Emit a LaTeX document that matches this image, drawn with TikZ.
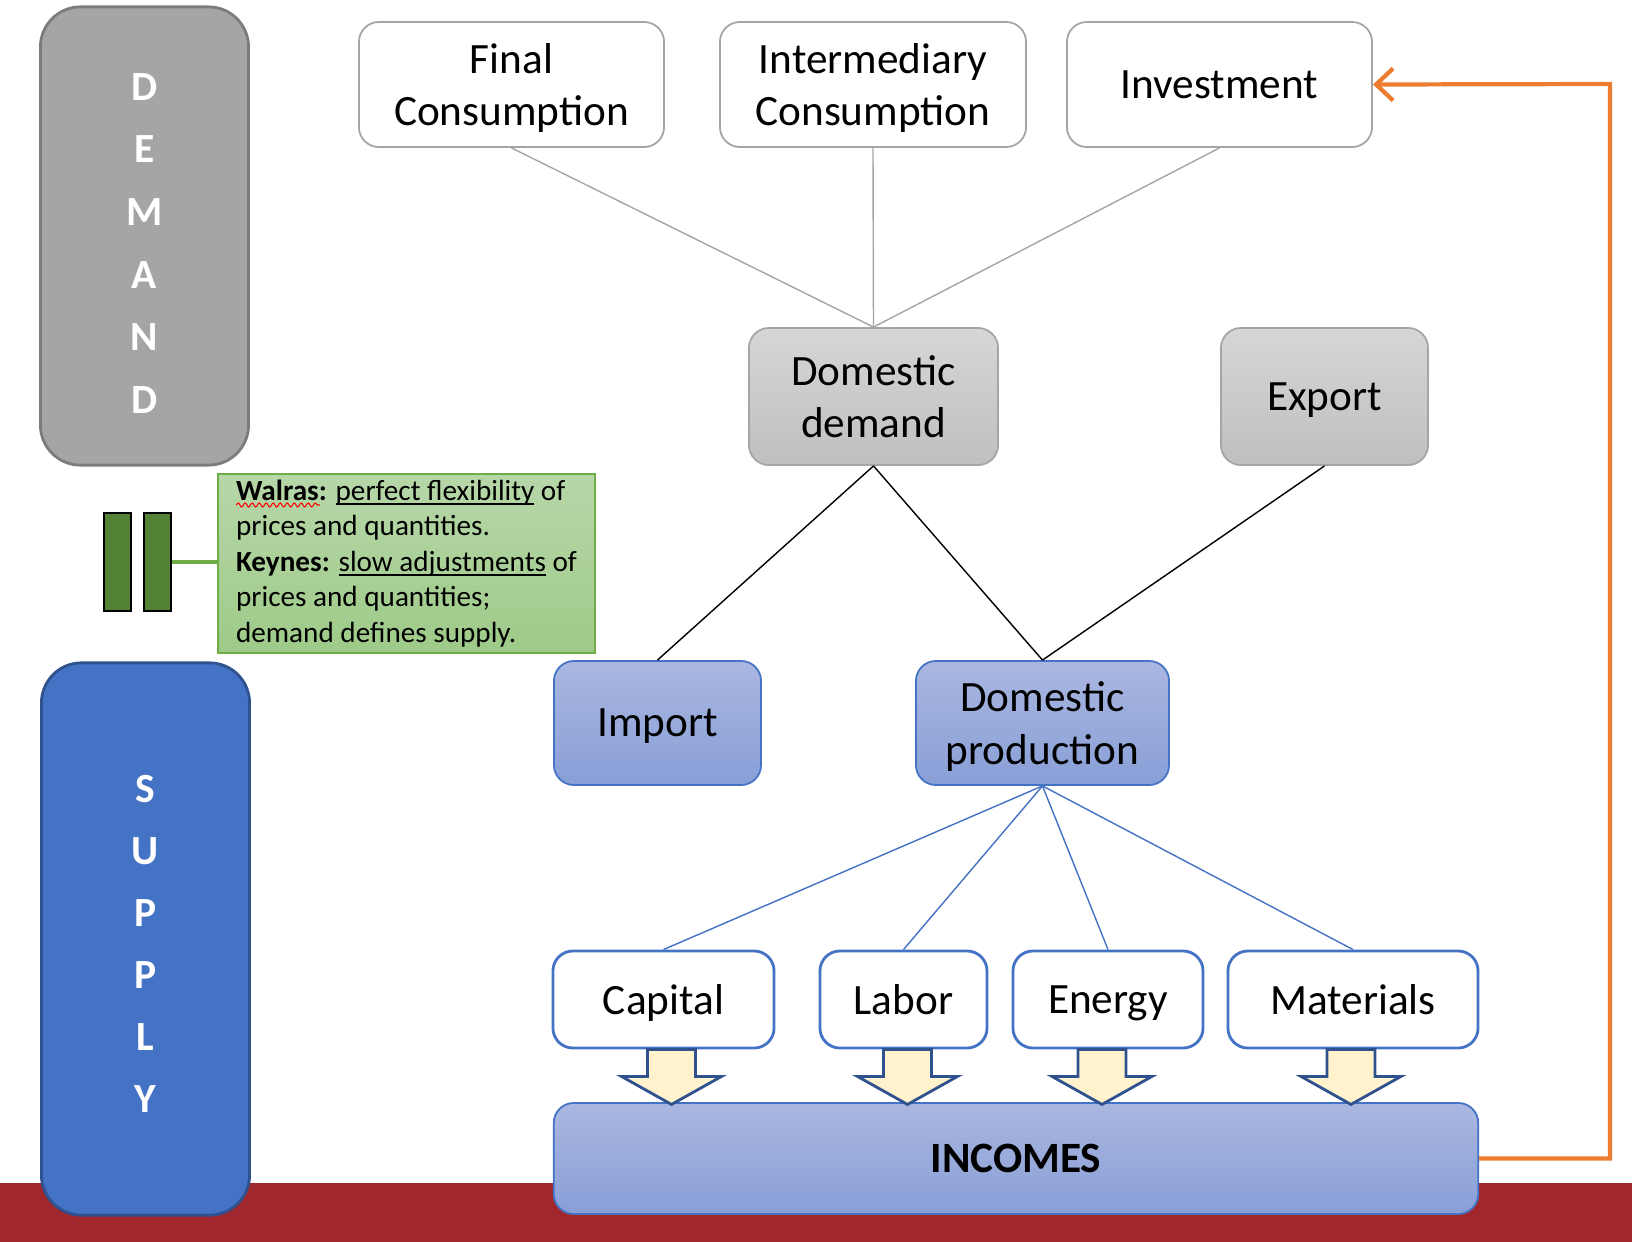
\documentclass[tikz,border=0pt]{standalone}
\usepackage{fontspec}
\setmainfont{Carlito}
\usetikzlibrary{arrows.meta,decorations.pathmorphing}

\definecolor{accblue}{RGB}{68,114,196}
\definecolor{darkblue}{RGB}{47,82,143}
\definecolor{bluetop}{RGB}{170,183,224}
\definecolor{bluebot}{RGB}{136,159,215}
\definecolor{accgray}{RGB}{165,165,165}
\definecolor{darkgray}{RGB}{124,124,124}
\definecolor{accorange}{RGB}{237,125,49}
\definecolor{accgreen}{RGB}{112,173,71}
\definecolor{bargreen}{RGB}{84,130,53}
\definecolor{notetop}{RGB}{183,215,169}
\definecolor{notebot}{RGB}{158,202,136}
\definecolor{paleyellow}{RGB}{255,242,204}
\definecolor{bandred}{RGB}{160,39,45}

% underline that sits just under the baseline
\newcommand\uword[1]{\leavevmode\setbox0=\hbox{#1}\rlap{\rule[-1.3pt]{\wd0}{0.45pt}}\box0\relax}

\begin{document}
\begin{tikzpicture}[x=0.01cm,y=-0.01cm]
% font of the boxes
\def\fs{\fontsize{12.3}{15}\selectfont}
% node style definition
\tikzstyle{base} = [rectangle, rounded corners=2mm, align=center,
	inner sep=0pt, font=\fs, line width=0.5pt, text depth=0pt];
\tikzstyle{topbox} = [base, draw=accgray, fill=white];
\tikzstyle{graybox} = [base, draw=accgray, top color=black!16, bottom color=black!25];
\tikzstyle{bluebox} = [base, draw=accblue, top color=bluetop, bottom color=bluebot];
\tikzstyle{factor} = [base, draw=accblue, fill=white, line width=0.8pt,
	minimum height=9.7mm];
\tikzstyle{sidebox} = [rectangle, rounded corners=4mm, align=center, inner sep=0pt,
	line width=0.8pt, text=white, minimum width=20.8mm,
	font=\bfseries\fontsize{11.8}{17.8}\selectfont];
\tikzstyle{eqbar} = [draw=black, fill=bargreen, line width=0.8pt,
	minimum width=2.7mm, minimum height=9.8mm, inner sep=0pt];
\tikzstyle{flowarrow} = [draw=darkblue, fill=paleyellow, line width=0.8pt,
	line join=miter];

\useasboundingbox (0,0) rectangle (1632,1242);
% red band at the bottom
\fill[bandred] (0,1183) rectangle (1632,1242);

% left column
\node[sidebox, draw=darkgray, fill=accgray, minimum height=45.8mm] (demand) at (144.5,236)
	{\rule{0pt}{11.8pt}D\\E\\M\\A\\N\\D};
\node[sidebox, draw=darkblue, fill=accblue, minimum height=55.2mm,
	font=\bfseries\fontsize{11.8}{17.6}\selectfont] (supply) at (145.5,939)
	{\rule{0pt}{10.6pt}S\\U\\P\\P\\L\\Y};

% equals sign and note
\node[eqbar] (bar1) at (117.5,562) {};
\node[eqbar] (bar2) at (157.5,562) {};
\node[draw=accgreen, top color=notetop, bottom color=notebot, align=left,
	minimum width=37.7mm, minimum height=17.9mm, inner sep=0pt,
	font=\fontsize{8.3}{10.1}\selectfont] (note) at (406.5,563.5)
	{\textbf{Walras:} \uword{perfect flexibility} of\\
	prices and quantities.\\
	\textbf{Keynes:} \uword{slow adjustments} of\\
	prices and quantities;\\
	demand defines supply.};
\draw[accgreen, line width=1.1pt] (bar2.east) -- (bar2.east -| note.west);
% spelling mark under Walras
\draw[red, line width=0.3pt, decorate,
	decoration={snake, amplitude=0.2mm, segment length=0.7mm}] (236,505) -- (320,505);

% demand side
\node[topbox, minimum width=30.5mm, minimum height=12.5mm] (final) at (511.5,84.5)
	{Final\\Consumption};
\node[topbox, minimum width=30.6mm, minimum height=12.5mm] (inter) at (873,84.5)
	{Intermediary\\Consumption};
\node[topbox, minimum width=30.5mm, minimum height=12.5mm] (invest) at (1219.5,84.5)
	{Investment};
\node[graybox, minimum width=24.9mm, minimum height=13.7mm] (ddemand) at (873.5,396.5)
	{Domestic\\demand};
\node[graybox, minimum width=20.7mm, minimum height=13.7mm] (export) at (1324.5,396.5)
	{Export};

% supply side
\node[bluebox, minimum width=20.7mm, minimum height=12.4mm] (import) at (657.5,723)
	{Import};
\node[bluebox, minimum width=25.3mm, minimum height=12.4mm] (dprod) at (1042.5,723)
	{Domestic\\production};

% factors
\node[factor, minimum width=22.1mm] (capital) at (663.5,999.5) {Capital};
\node[factor, minimum width=16.7mm] (labor) at (903.5,999.5) {Labor};
\node[factor, minimum width=19.0mm] (energy) at (1108,999.5) {Energy};
\node[factor, minimum width=25.0mm] (materials) at (1353,999.5) {Materials};

% incomes
\node[bluebox, minimum width=92.4mm, minimum height=11.1mm,
	font=\bfseries\fontsize{12.3}{15}\selectfont] (incomes) at (1016,1158.5) {INCOMES};

% connectors
\foreach \n in {final, inter, invest}
	\draw[accgray, line width=0.4pt] (\n.south) -- (ddemand.north);
\draw[black, line width=0.4pt] (ddemand.south) -- (import.north);
\draw[black, line width=0.4pt] (ddemand.south) -- (dprod.north);
\draw[black, line width=0.4pt] (export.south) -- (dprod.north);
\foreach \n in {capital, labor, energy, materials}
	\draw[accblue, line width=0.4pt] (dprod.south) -- (\n.north);

% block arrows from the factors to incomes
\foreach \n/\dx in {capital/8, labor/4, energy/-6, materials/-2}
	\draw[flowarrow, shift={(\n.south)}]
		(\dx-24,0) -- (\dx-24,27) -- (\dx-50,27) -- (\dx,55)
		-- (\dx+50,27) -- (\dx+24,27) -- (\dx+24,0) -- cycle;

% feedback loop
\coordinate (loop) at (1610,84);
\draw[accorange, line width=1.2pt, -{Straight Barb[length=1.7mm,width=3.2mm]}]
	(incomes.east) -| (loop) -- (invest.east);
\end{tikzpicture}
\end{document}
